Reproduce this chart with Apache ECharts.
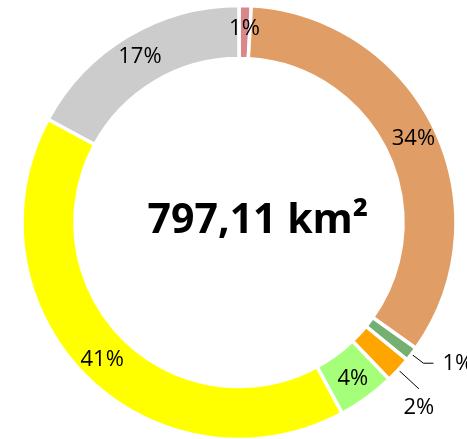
<!DOCTYPE html>
<html>
<head>
<meta charset="utf-8">
<script src="https://cdn.jsdelivr.net/npm/echarts@6/dist/echarts.min.js"></script>
<style>
  html, body { margin: 0; padding: 0; background: #fff; }
  #chart { width: 467px; height: 439px; }
</style>
</head>
<body>
<div id="chart"></div>
<script>
// land use areas (km²), clockwise from the top
const categories = ['a', 'b', 'c', 'd', 'e', 'f', 'g'];
const areaValues = [7.2, 270.5, 8.5, 15.5, 34, 325, 136.4];
const sliceColors = ['#D9878A', '#E09E66', '#75B072', '#FFA500', '#A6FF78', '#FFFF00', '#CCCCCC'];
const totalLabel = '797,11 km²';
// slices whose label sits outside with a leader line
const outsideLabels = [2, 3];

const CENTER = [239, 222.5];
const RADIUS = [164, 217];

const labelFont = {
  color: '#000',
  fontFamily: 'Open Sans',
  fontSize: 22,
};

const chart = echarts.init(document.getElementById('chart'));

const pieData = areaValues.map((v, i) => {
  const item = {
    name: categories[i],
    value: v,
    itemStyle: { color: sliceColors[i] },
  };
  if (outsideLabels.includes(i)) item.label = { position: 'outside' };
  return item;
});

// mid angle of a slice, clockwise from 12 o'clock
function midAngle(idx) {
  const total = areaValues.reduce((s, v) => s + v, 0);
  const before = areaValues.slice(0, idx).reduce((s, v) => s + v, 0);
  return (before + areaValues[idx] / 2) / total * Math.PI * 2;
}

function polar(angle, r) {
  return [CENTER[0] + r * Math.sin(angle), CENTER[1] - r * Math.cos(angle)];
}

// leader line: from mid-ring, out past the edge, then a short horizontal tail
function leaderLayout(p) {
  if (!outsideLabels.includes(p.dataIndex)) return {};
  const ang = midAngle(p.dataIndex);
  const start = polar(ang, (RADIUS[0] + RADIUS[1]) / 2);
  if (p.dataIndex === 3) {
    const end = polar(ang, RADIUS[1] + 28);
    return {
      x: end[0],
      y: end[1] + 8,
      align: 'center',
      verticalAlign: 'top',
      labelLinePoints: [start, end, end],
    };
  }
  const elbow = polar(ang, RADIUS[1] + 15);
  const tail = [elbow[0] + 10, elbow[1]];
  return {
    x: tail[0] + 9,
    y: tail[1] + 1,
    align: 'left',
    verticalAlign: 'middle',
    labelLinePoints: [start, elbow, tail],
  };
}

chart.setOption({
  animation: false,
  graphic: [{
    type: 'text',
    style: {
      x: 258,
      y: 221,
      text: totalLabel,
      fill: '#000',
      font: 'bold 41px "Open Sans"',
      align: 'center',
      verticalAlign: 'middle',
    },
  }],
  series: [{
    type: 'pie',
    center: CENTER,
    radius: RADIUS,
    startAngle: 90,
    clockwise: true,
    avoidLabelOverlap: false,
    itemStyle: { borderColor: '#fff', borderWidth: 3.5 },
    label: {
      show: true,
      position: 'inside',
      formatter: (p) => Math.round(p.percent) + '%',
      ...labelFont,
    },
    labelLine: {
      show: true,
      length: 15,
      length2: 10,
      lineStyle: { color: '#000', width: 1 },
    },
    labelLayout: leaderLayout,
    data: pieData,
  }],
});
</script>
</body>
</html>
